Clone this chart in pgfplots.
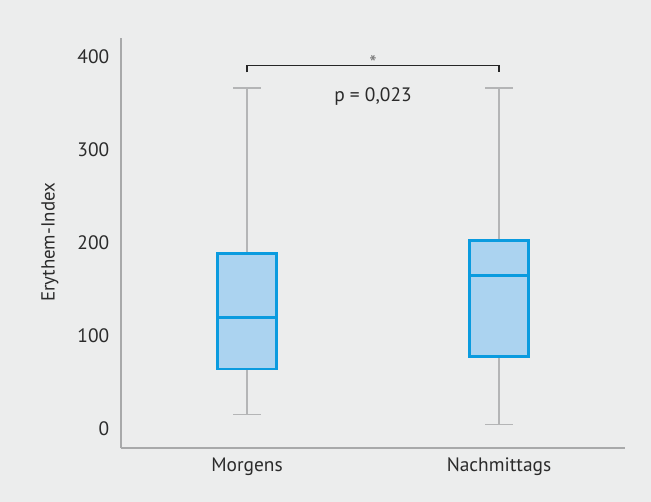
\documentclass[border=0pt]{standalone}
\usepackage{fontspec}
\setmainfont{PT Sans}
\usepackage{pgfplots}
\pgfplotsset{compat=1.18}
\definecolor{bg}{HTML}{ECEDED}
\definecolor{axgray}{HTML}{A8A9AA}
\definecolor{whgray}{HTML}{B4B5B6}
\definecolor{boxblue}{HTML}{0A9BDF}
\definecolor{boxfill}{HTML}{ABD3F0}
\definecolor{txt}{HTML}{2B2B2B}
\begin{document}
\fontsize{19.5}{23}\selectfont
\begin{tikzpicture}
\fill[bg] (0,0) rectangle (651bp,502bp);
\useasboundingbox (0,0) rectangle (651bp,502bp);
\begin{axis}[
  at={(121bp,54bp)}, anchor=south west,
  scale only axis, width=504bp, height=409.7bp,
  xmin=0.5, xmax=2.5, ymin=-20.4, ymax=420,
  axis lines=left,
  axis line style={draw=axgray, line width=1.6bp, -},
  ytick={0,100,200,300,400},
  xtick={1,2}, xticklabels={Morgens,Nachmittags},
  major tick style={draw=none},
  /pgf/number format/assume math mode=true,
  tick label style={text=txt, font=\fontsize{19.5}{23}\selectfont},
  yticklabel style={xshift=-3bp},
  xticklabel style={yshift=-1bp},
  ylabel={Erythem-Index},
  every axis y label/.style={at={(axis description cs:-0.141,0.502)}, rotate=90, anchor=center, text=txt, font=\fontsize{19}{22}\selectfont},
  clip=false,
]
% Morgens: whiskers 15.4 / 366.7, quartiles 64.5 / 188.9, median 120
\addplot[draw=whgray, line width=1.5bp] coordinates {(1,15.4) (1,64.5)};
\addplot[draw=whgray, line width=1.5bp] coordinates {(1,188.9) (1,366.7)};
\addplot[draw=whgray, line width=1.5bp] coordinates {(0.9445,15.4) (1.0555,15.4)};
\addplot[draw=whgray, line width=1.5bp] coordinates {(0.9445,366.7) (1.0555,366.7)};
\addplot[draw=boxblue, fill=boxfill, line width=2.5bp] coordinates {(0.883,64.5) (1.117,64.5) (1.117,188.9) (0.883,188.9)} -- cycle;
\addplot[draw=boxblue, line width=2.5bp] coordinates {(0.883,120) (1.117,120)};
% Nachmittags: whiskers 4.6 / 366.7, quartiles 77.8 / 202.5, median 164.8
\addplot[draw=whgray, line width=1.5bp] coordinates {(2,4.6) (2,77.8)};
\addplot[draw=whgray, line width=1.5bp] coordinates {(2,202.5) (2,366.7)};
\addplot[draw=whgray, line width=1.5bp] coordinates {(1.9445,4.6) (2.0555,4.6)};
\addplot[draw=whgray, line width=1.5bp] coordinates {(1.9445,366.7) (2.0555,366.7)};
\addplot[draw=boxblue, fill=boxfill, line width=2.5bp] coordinates {(1.883,77.8) (2.117,77.8) (2.117,202.5) (1.883,202.5)} -- cycle;
\addplot[draw=boxblue, line width=2.5bp] coordinates {(1.883,164.8) (2.117,164.8)};
% significance bracket
\addplot[draw=black!85, line width=1.3bp] coordinates {(1,383.5) (1,391) (2,391) (2,383.5)};
\node[text=black!55, font=\fontsize{21}{24}\selectfont] at (axis cs:1.5,393) {*};
\node[text=txt] at (axis cs:1.5,357) {p = 0,023};
\end{axis}
\end{tikzpicture}
\end{document}
